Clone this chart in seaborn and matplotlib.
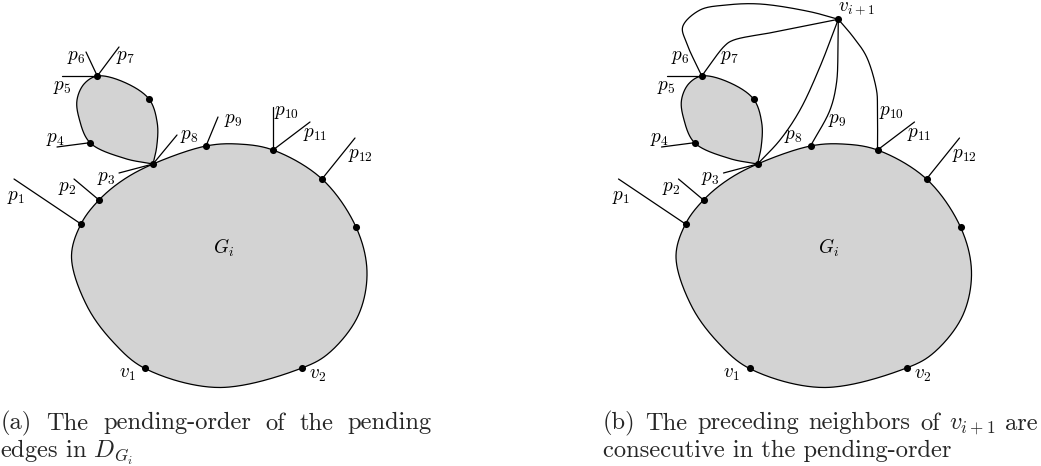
import numpy as np
import pandas as pd
import matplotlib
matplotlib.use("Agg")
import matplotlib.pyplot as plt
import seaborn as sns

# ---------------- data (panel (a) pixel coordinates) ----------------
blob_outline = [(153, 164), (206, 146), (238, 144), (273, 150), (322, 179),
                (356, 227), (367, 272), (358, 316), (329, 353), (302, 368),
                (218.5, 387.5), (145, 368.5), (114, 343), (87, 306), (71.5, 257),
                (81, 224), (99, 200), (123, 180)]
loop_outline = [(153, 164), (156.7, 146.7), (157.3, 123.3), (149, 99),
                (123, 81.7), (97.3, 76), (84, 84), (77, 100),
                (79, 118), (90, 142.7), (125, 158.5), (153, 164)]
vertex_x = [81, 99, 153, 206, 273, 322, 356, 302, 145, 97.3, 149, 90]
vertex_y = [224, 200, 164, 146, 150, 179, 227, 368.3, 368.3, 76, 99, 142.7]

pending_names = ["p1", "p2", "p3", "p4", "p5", "p6", "p7", "p8", "p9", "p10", "p11", "p12"]
pending_start = [(81, 224), (99, 200), (153, 164), (90, 142.7), (97.3, 76), (97.3, 76),
                 (97.3, 76), (153, 164), (206, 146), (273, 150), (273, 150), (322, 179)]
pending_end = [(14, 179), (74, 179), (119, 173), (57, 147), (62, 76), (86, 52),
               (119, 47), (177, 135), (218, 117), (273, 107), (310, 122), (355, 138)]
pending_label_pos = [(16, 197), (67, 188), (106, 178), (55, 139), (62, 87), (76, 57),
                     (125, 57), (189, 136), (233, 120), (287, 112), (315, 134), (360, 155)]

other_labels = [r"$v_1$", r"$v_2$", r"$G_i$"]
other_label_pos = [(127, 374), (318, 375), (224, 248)]

# panel (b): the new vertex and its edges to the preceding neighbours
v_next = (233.8, 19.3)
v_next_label_pos = (252, 8.5)
neighbor_names = ["p6", "p7", "p8", "p9", "p10"]
neighbor_paths = [
    [(233.8, 19.3), (205.5, 11.7), (155.5, 4), (122, 5), (95.5, 10), (78.2, 26.7),
     (82.2, 43.3), (97.3, 76)],
    [(233.8, 19.3), (172, 31.7), (128, 40.5), (120, 46), (97.3, 76)],
    [(233.8, 19.3), (215.5, 66.7), (195.5, 110), (175.5, 140), (153, 164)],
    [(233.8, 19.3), (233.5, 50), (232, 83), (225.5, 110), (206, 146)],
    [(233.8, 19.3), (248.5, 36.7), (262, 56.7), (272, 90), (273, 107), (273, 150)],
]

caption_a_line1 = ["(a)", "The", "pending-order", "of", "the", "pending"]
caption_a_line2 = r"edges in $D_{G_i}$"
caption_b_line1 = ["(b)", "The", "preceding", "neighbors", "of", r"$v_{i+1}$", "are"]
caption_b_line2 = "consecutive in the pending-order"

# ---------------- layout / style ----------------
SHIFT_B = 604.5
FILL = "#d3d3d3"
LW = 0.9
LABEL_SIZE = 13.8

sns.set_theme(style="white")
plt.rcParams["font.family"] = ["cmr10", "DejaVu Serif"]
plt.rcParams["mathtext.fontset"] = "cm"
plt.rcParams["axes.unicode_minus"] = False

fig = plt.figure(figsize=(10.41, 4.66), dpi=100)
ax = fig.add_axes([0, 0, 1, 1])
ax.set_xlim(0, 1041)
ax.set_ylim(466, 0)
ax.axis("off")


def cr_segment(p0, p1, p2, p3, n, alpha=0.5):
    def tj(ti, a, b):
        return ti + max(np.linalg.norm(b - a), 1e-6) ** alpha
    t0 = 0.0
    t1 = tj(t0, p0, p1)
    t2 = tj(t1, p1, p2)
    t3 = tj(t2, p2, p3)
    t = np.linspace(t1, t2, n, endpoint=False)[:, None]
    A1 = (t1 - t) / (t1 - t0) * p0 + (t - t0) / (t1 - t0) * p1
    A2 = (t2 - t) / (t2 - t1) * p1 + (t - t1) / (t2 - t1) * p2
    A3 = (t3 - t) / (t3 - t2) * p2 + (t - t2) / (t3 - t2) * p3
    B1 = (t2 - t) / (t2 - t0) * A1 + (t - t0) / (t2 - t0) * A2
    B2 = (t3 - t) / (t3 - t1) * A2 + (t - t1) / (t3 - t1) * A3
    return (t2 - t) / (t2 - t1) * B1 + (t - t1) / (t2 - t1) * B2


def catmull(points, closed, n=40):
    P = np.asarray(points, dtype=float)
    if closed:
        Q = np.vstack([P[-1], P, P[0], P[1]])
    else:
        Q = np.vstack([2 * P[0] - P[1], P, 2 * P[-1] - P[-2]])
    out = [cr_segment(Q[i - 1], Q[i], Q[i + 1], Q[i + 2], n) for i in range(1, len(Q) - 2)]
    out.append(Q[-2][None, :])
    return np.vstack(out)


def draw_line(xy, dx):
    df = pd.DataFrame({"x": xy[:, 0] + dx, "y": xy[:, 1]})
    sns.lineplot(data=df, x="x", y="y", sort=False, estimator=None,
                 color="black", lw=LW, ax=ax)


def label(txt, pos, dx):
    ax.text(pos[0] + dx, pos[1], txt, fontsize=LABEL_SIZE, ha="center", va="center",
            color="black")


blob = catmull(blob_outline, closed=True)
loop = catmull(loop_outline, closed=False)

for panel, dx in enumerate([0.0, SHIFT_B]):
    ax.fill(blob[:, 0] + dx, blob[:, 1], color=FILL, lw=0, zorder=0)
    ax.fill(loop[:, 0] + dx, loop[:, 1], color=FILL, lw=0, zorder=0)
    draw_line(blob, dx)
    draw_line(loop, dx)
    for name, s, e, lp in zip(pending_names, pending_start, pending_end, pending_label_pos):
        if panel == 0 or name not in neighbor_names:
            draw_line(np.array([s, e], dtype=float), dx)
        label(r"$p_{%s}$" % name[1:], lp, dx)
    for t, p in zip(other_labels, other_label_pos):
        label(t, p, dx)
    sns.scatterplot(x=np.array(vertex_x) + dx, y=vertex_y, color="black", s=26,
                    linewidth=0, ax=ax, zorder=5)

for path in neighbor_paths:
    draw_line(catmull(path, closed=False), SHIFT_B)
sns.scatterplot(x=[v_next[0] + SHIFT_B], y=[v_next[1]], color="black", s=26,
                linewidth=0, ax=ax, zorder=5)
label(r"$v_{i+1}$", v_next_label_pos, SHIFT_B)

# ---------------- captions ----------------
renderer = fig.canvas.get_renderer()


def width_of(t):
    return t.get_window_extent(renderer).width


probe = ax.text(0, 0, caption_b_line2, fontsize=10)
CAP_SIZE = 10 * 349.0 / width_of(probe)
probe.remove()


def justified(words, x0, x1, y):
    texts = [ax.text(0, y, w, fontsize=CAP_SIZE, ha="left", va="baseline") for w in words]
    widths = [width_of(t) for t in texts]
    gap = (x1 - x0 - sum(widths)) / (len(words) - 1)
    x = x0
    for t, w in zip(texts, widths):
        t.set_x(x)
        x += w + gap


justified(caption_a_line1, 0.5, 432, 429.5)
ax.text(0.5, 457.5, caption_a_line2, fontsize=CAP_SIZE, ha="left", va="baseline")
justified(caption_b_line1, 603, 1038, 429.5)
ax.text(603, 457.5, caption_b_line2, fontsize=CAP_SIZE, ha="left", va="baseline")

fig.savefig("out.png", dpi=100, facecolor="white")
